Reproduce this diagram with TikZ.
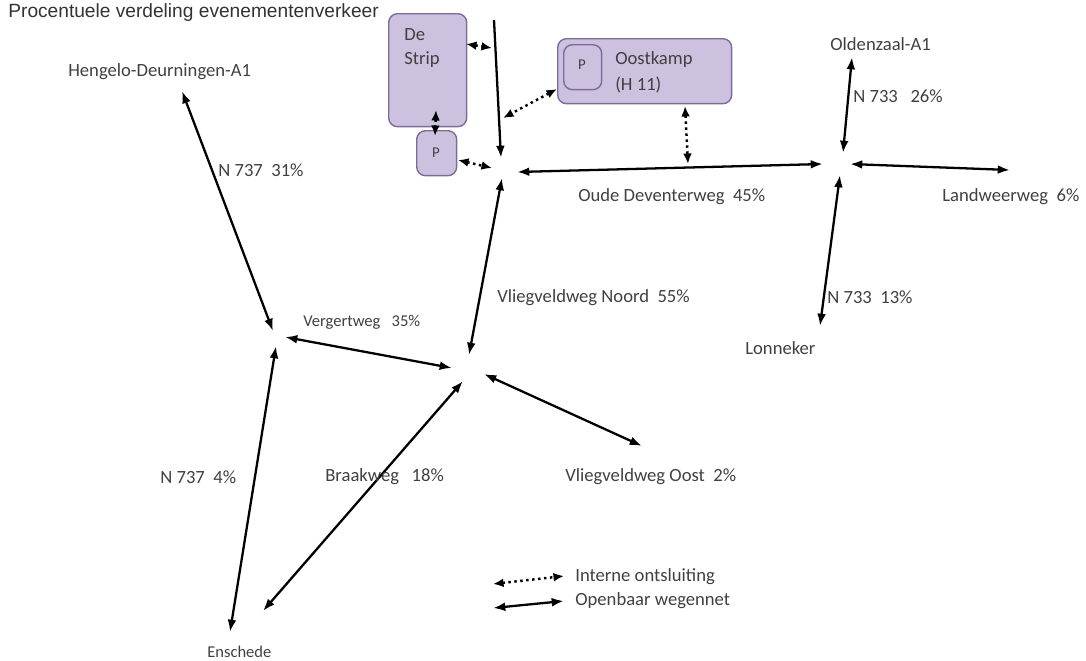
\documentclass[tikz,border=0pt]{standalone}
\usepackage{fontspec}
\setmainfont{Carlito}
\newfontfamily\titlefont{Liberation Sans}
\usetikzlibrary{arrows.meta}
\definecolor{boxfill}{HTML}{CCC2DF}
\definecolor{boxline}{HTML}{7D6B98}
\definecolor{txt}{HTML}{404040}

\begin{document}
\begin{tikzpicture}[x=0.02cm, y=-0.02cm,
  road/.style={line width=1.3pt, {Latex[length=7pt,width=5pt]}-{Latex[length=7pt,width=5pt]}},
  intern/.style={line width=1.4pt, dotted, {Latex[length=6pt,width=5pt]}-{Latex[length=6pt,width=5pt]}},
  lbl/.style={text=txt, font=\fontsize{10.6}{12}\selectfont, inner sep=0pt, anchor=west},
  small/.style={lbl, font=\fontsize{9.4}{11}\selectfont},
  area/.style={draw=boxline, fill=boxfill, rounded corners=5pt, line width=0.8pt, anchor=north west, inner sep=0pt}]
\useasboundingbox (0,0) rectangle (1086,660);

% parkeerterreinen
\node[area, minimum width=1.56cm, minimum height=2.26cm] (strip) at (388,13) {};
\node[area, minimum width=0.8cm, minimum height=0.9cm] (pstrip) at (416,130) {};
\node[area, minimum width=3.48cm, minimum height=1.3cm] (oost) at (557,38) {};
\node[area, minimum width=0.76cm, minimum height=0.9cm] (poost) at (563,44) {};
\node[lbl] (de) at (404,35) {De};
\node[lbl] (stripname) at (404,60) {Strip};
\node[lbl, font=\fontsize{8.5}{10}\selectfont, anchor=center] (p1) at (436,153) {P};
\node[lbl, font=\fontsize{8.5}{10}\selectfont, anchor=center] (p2) at (582,65) {P};
\node[lbl] (oostname) at (615,60) {Oostkamp};
\node[lbl] (oostnr) at (615,85) {(H 11)};

% eindpunten wegen
\coordinate (vtop) at (494,20);
\coordinate (vbot) at (501,158);
\coordinate (odw) at (517,172);
\coordinate (ode) at (823,164);
\coordinate (vnn) at (502,178);
\coordinate (vns) at (469,355);
\coordinate (oln) at (852,57);
\coordinate (ols) at (843,153);
\coordinate (lww) at (850,164);
\coordinate (lwe) at (1010,170);
\coordinate (lon) at (840,175);
\coordinate (los) at (820,326);
\coordinate (vgw) at (285,337);
\coordinate (vge) at (452,368);
\coordinate (vow) at (484,374);
\coordinate (voe) at (642,446);
\coordinate (bwn) at (463,381);
\coordinate (bws) at (263,611);
\coordinate (hdn) at (182,91);
\coordinate (hds) at (273,331);
\coordinate (enn) at (276,346);
\coordinate (ens) at (230,632);
\coordinate (lg1w) at (493,584);
\coordinate (lg1e) at (564,576);
\coordinate (lg2w) at (493,608);
\coordinate (lg2e) at (564,601);

% interne ontsluiting
\coordinate (dsa) at (466,44);
\coordinate (dsb) at (492,48);
\coordinate (oka) at (557,89);
\coordinate (okb) at (503,118);
\coordinate (spa) at (436,110);
\coordinate (spb) at (435,136);
\coordinate (pja) at (458,160);
\coordinate (pjb) at (492,168);
\coordinate (oha) at (685,106);
\coordinate (ohb) at (688,164);

\draw[line width=1.3pt, -{Latex[length=7pt,width=5pt]}] (vtop) -- (vbot);
\foreach \a/\b in {odw/ode, vnn/vns, oln/ols, lww/lwe, lon/los, vgw/vge, vow/voe, bwn/bws, hdn/hds, enn/ens, lg2w/lg2e}
  \draw[road] (\a) -- (\b);
\foreach \a/\b in {dsa/dsb, oka/okb, spa/spb, pja/pjb, oha/ohb, lg1w/lg1e}
  \draw[intern] (\a) -- (\b);

% labels
\node[lbl, text=black!80, font=\titlefont\fontsize{10.9}{12}\selectfont] (title) at (8,13) {Procentuele verdeling evenementenverkeer};
\node[lbl] (hengelo) at (68,72) {Hengelo-Deurningen-A1};
\node[lbl] (n737a) at (218,170) {N 737~~31\%};
\node[small] (verg) at (303,322) {Vergertweg~~~35\%};
\node[lbl] (vnoord) at (497,298) {Vliegveldweg Noord~~55\%};
\node[lbl] (oude) at (578,197) {Oude Deventerweg~~45\%};
\node[lbl] (landw) at (942,197) {Landweerweg~~6\%};
\node[lbl] (olden) at (830,44) {Oldenzaal-A1};
\node[lbl] (n733a) at (853,96) {N 733~~~26\%};
\node[lbl] (n733b) at (827,297) {N 733~~13\%};
\node[lbl] (lonn) at (745,348) {Lonneker};
\node[lbl] (n737b) at (160,477) {N 737~~4\%};
\node[lbl] (braak) at (325,477) {Braakweg~~~18\%};
\node[lbl] (voost) at (565,477) {Vliegveldweg Oost~~2\%};
\node[small] (ensch) at (207,652) {Enschede};
\node[lbl] (leg1) at (575,577) {Interne ontsluiting};
\node[lbl] (leg2) at (575,601) {Openbaar wegennet};
\end{tikzpicture}
\end{document}
